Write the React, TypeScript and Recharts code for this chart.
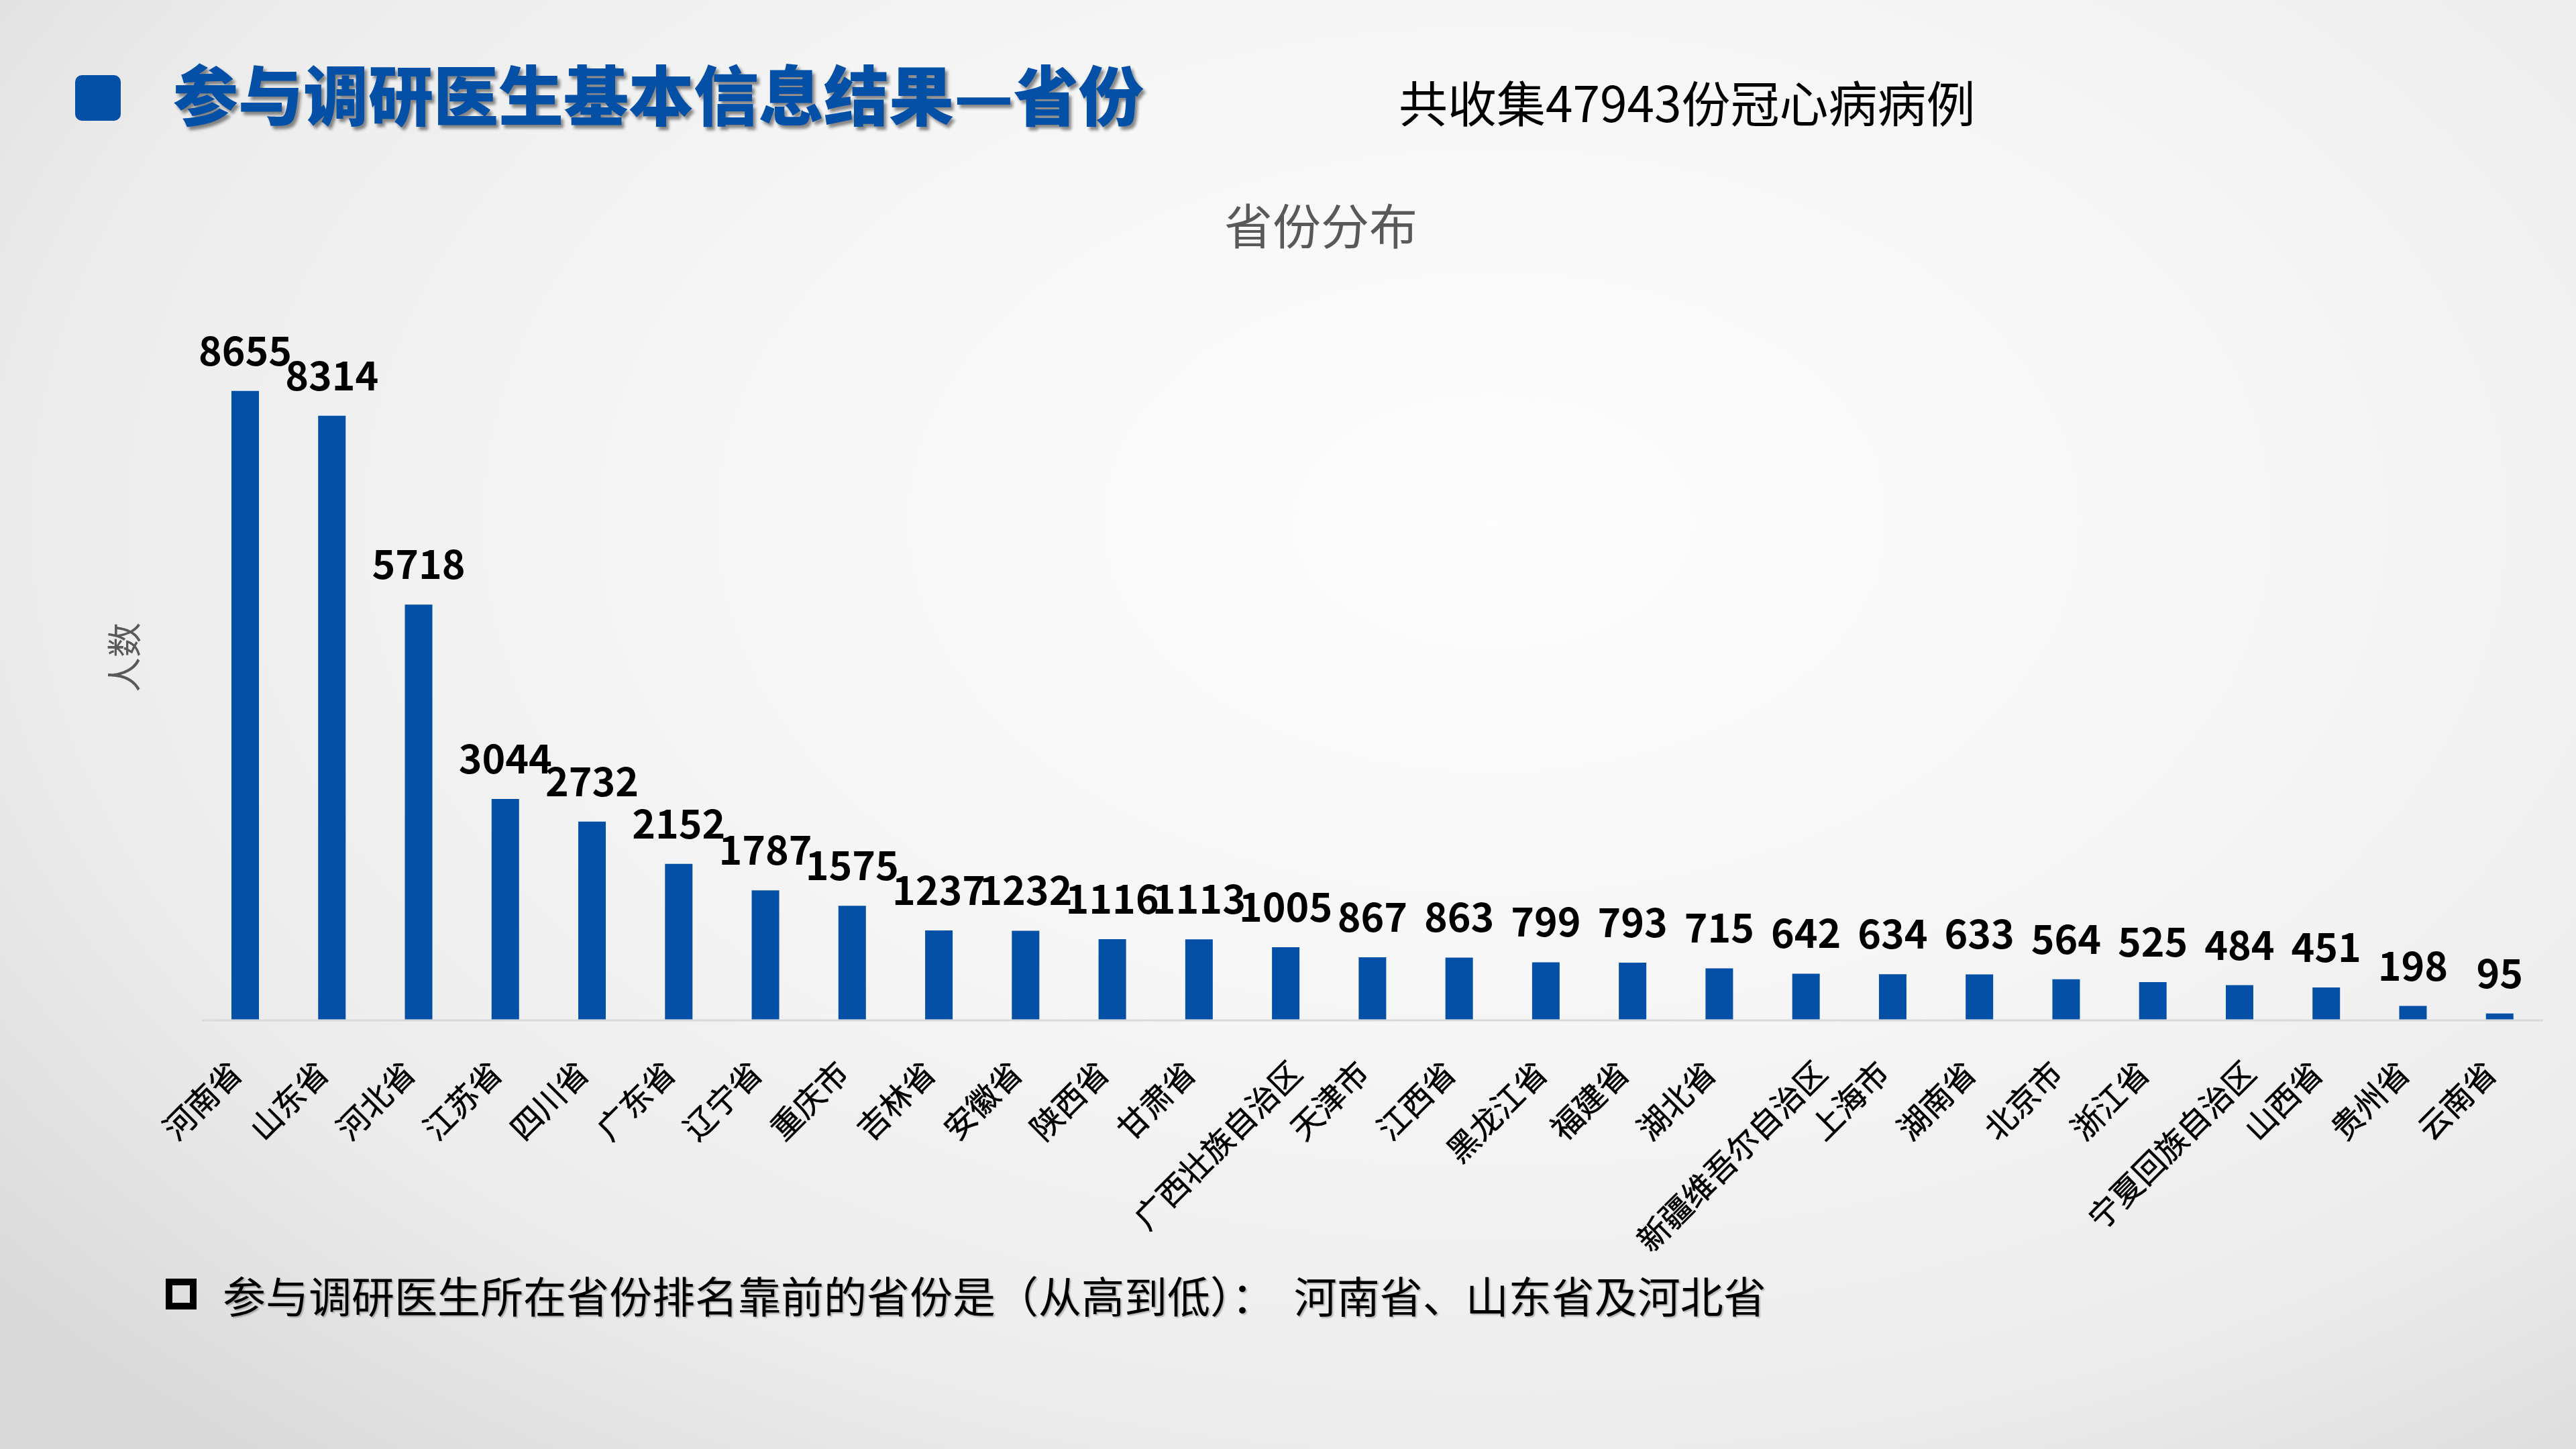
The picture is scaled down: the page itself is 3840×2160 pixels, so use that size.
import React from 'react';
import { BarChart, Bar, XAxis, YAxis, LabelList } from 'recharts';

const provinces = ['河南省','山东省','河北省','江苏省','四川省','广东省','辽宁省','重庆市','吉林省','安徽省','陕西省','甘肃省','广西壮族自治区','天津市','江西省','黑龙江省','福建省','湖北省','新疆维吾尔自治区','上海市','湖南省','北京市','浙江省','宁夏回族自治区','山西省','贵州省','云南省'];
const counts = [8655, 8314, 5718, 3044, 2732, 2152, 1787, 1575, 1237, 1232, 1116, 1113, 1005, 867, 863, 799, 793, 715, 642, 634, 633, 564, 525, 484, 451, 198, 95];

const pageTitle = '参与调研医生基本信息结果—省份';
const subtitle = '共收集47943份冠心病病例';
const chartTitle = '省份分布';
const yAxisTitle = '人数';
const noteText = '参与调研医生所在省份排名靠前的省份是（从高到低）：  河南省、山东省及河北省';

const data = provinces.map((name, i) => ({ name, value: counts[i] }));

const FONT = '"Noto Sans CJK SC", "Noto Sans", sans-serif';
const BLUE = '#0450A6';

const RotTick = (props: any) => {
  const { x, y, payload } = props;
  const n = String(payload.value).length;
  const shift = 7.3 * (n - 3);
  return (
    <g transform={`translate(${x - 2 + shift},${y + 82})`}>
      <text
        x={0}
        y={0}
        transform="rotate(-45)"
        textAnchor="end"
        fontSize={47}
        fontFamily={FONT}
        fill="#000"
        stroke="#000"
        strokeWidth={0.6}
      >
        {payload.value}
      </text>
    </g>
  );
};

export default function App() {
  return (
    <div
      style={{
        position: 'fixed',
        left: 0,
        top: 0,
        width: 3840,
        height: 2160,
        overflow: 'hidden',
        fontFamily: FONT,
        background:
          'radial-gradient(ellipse 75% 85% at 58% 36%, #fdfdfd 0%, #f6f6f6 40%, #ececec 75%, #d9d9d9 100%)',
      }}
    >
      <div
        style={{
          position: 'absolute',
          left: 112,
          top: 112,
          width: 68,
          height: 68,
          borderRadius: 10,
          background: BLUE,
        }}
      />
      <div
        style={{
          position: 'absolute',
          left: 258,
          top: 88,
          fontSize: 97,
          lineHeight: 1,
          fontWeight: 900,
          color: BLUE,
          whiteSpace: 'nowrap',
          textShadow: '4px 5px 4px rgba(0,0,0,0.45)',
        }}
      >
        {pageTitle}
      </div>
      <div
        style={{
          position: 'absolute',
          left: 2085,
          top: 114,
          fontSize: 73,
          lineHeight: 1,
          color: '#000',
          whiteSpace: 'nowrap',
        }}
      >
        {subtitle}
      </div>
      <div
        style={{
          position: 'absolute',
          left: 1969,
          top: 297,
          transform: 'translateX(-50%)',
          fontSize: 72,
          lineHeight: 1,
          color: '#595959',
          whiteSpace: 'nowrap',
        }}
      >
        {chartTitle}
      </div>
      <div
        style={{
          position: 'absolute',
          left: 183,
          top: 980,
          transform: 'translate(-50%, -50%) rotate(-90deg)',
          fontSize: 52,
          lineHeight: 1,
          color: '#595959',
          whiteSpace: 'nowrap',
        }}
      >
        {yAxisTitle}
      </div>

      <div style={{ position: 'absolute', left: 0, top: 0 }}>
        <BarChart
          width={3840}
          height={2160}
          data={data}
          margin={{ top: 437, right: 49, bottom: 339, left: 301 }}
          barCategoryGap={0}
        >
          <YAxis hide domain={[0, 10000]} width={0} />
          <XAxis
            dataKey="name"
            interval={0}
            height={300}
            tickLine={false}
            tickSize={0}
            tickMargin={0}
            axisLine={{ stroke: '#d9d9d9', strokeWidth: 3 }}
            tick={<RotTick />}
          />
          <Bar dataKey="value" fill={BLUE} barSize={41} isAnimationActive={false}>
            <LabelList
              dataKey="value"
              position="top"
              offset={38}
              fontSize={59}
              fontWeight={700}
              fontFamily={FONT}
              fill="#000"
            />
          </Bar>
        </BarChart>
      </div>

      <div
        style={{
          position: 'absolute',
          left: 247,
          top: 1906,
          width: 46,
          height: 46,
          boxSizing: 'border-box',
          border: '10px solid #000',
        }}
      />
      <div
        style={{
          position: 'absolute',
          left: 332,
          top: 1897,
          fontSize: 64,
          lineHeight: 1,
          color: '#000',
          whiteSpace: 'pre',
          textShadow: '2px 2px 2px rgba(0,0,0,0.25)',
        }}
      >
        {noteText}
      </div>
    </div>
  );
}
